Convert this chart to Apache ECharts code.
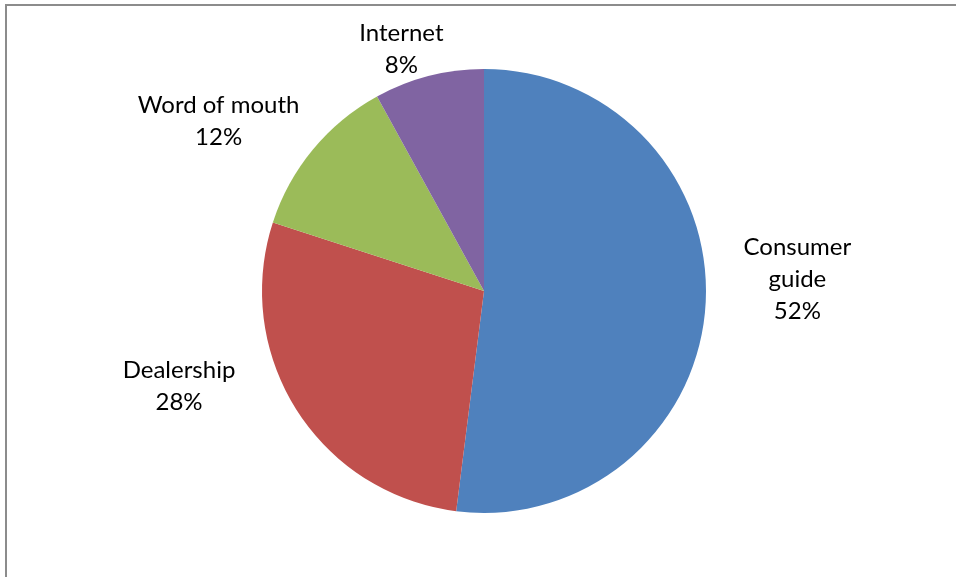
<!DOCTYPE html>
<html>
<head>
<meta charset="utf-8">
<script src="https://cdn.jsdelivr.net/npm/echarts@6/dist/echarts.min.js"></script>
<style>
  html, body { margin: 0; padding: 0; background: #fff; }
  #chart { width: 956px; height: 577px; }
</style>
</head>
<body>
<div id="chart"></div>
<script>
// Information sources and their shares (percent)
const sources = ['Consumer guide', 'Dealership', 'Word of mouth', 'Internet'];
const shares = [52, 28, 12, 8];
const labelTexts = ['Consumer\nguide', 'Dealership', 'Word of mouth', 'Internet'];

const colors = ['#4F81BD', '#C0504D', '#9BBB59', '#8064A2'];

// Pie geometry
const CX = 484, CY = 291, R = 222;
// Label placement: radial gap beyond the rim and a small nudge per slice
const labelGap = [90, 80, 90, 30];
const labelNudge = [[2, -31], [-50, -67], [-25, 29], [-20, 2]];

const total = shares.reduce((a, b) => a + b, 0);
const midAngles = [];
let acc = 0;
shares.forEach(v => {
  midAngles.push((acc + v / 2) / total * 2 * Math.PI);
  acc += v;
});

const chart = echarts.init(document.getElementById('chart'));
chart.setOption({
  animation: false,
  backgroundColor: '#fff',
  graphic: [{
    type: 'rect',
    shape: { x: 6, y: 5, width: 970, height: 600 },
    style: { fill: 'none', stroke: '#8c8c8c', lineWidth: 2 },
    silent: true
  }],
  series: [{
    type: 'pie',
    center: [CX, CY],
    radius: R,
    startAngle: 90,
    clockwise: true,
    data: sources.map((name, i) => ({
      name: name,
      value: shares[i],
      itemStyle: { color: colors[i] }
    })),
    itemStyle: { borderWidth: 0 },
    label: {
      show: true,
      position: 'outside',
      formatter: p => labelTexts[p.dataIndex] + '\n' + p.value + '%',
      fontFamily: 'Lato',
      fontSize: 24,
      lineHeight: 32,
      color: '#000',
      align: 'center'
    },
    labelLine: { show: false },
    labelLayout: p => {
      const i = p.dataIndex;
      const a = midAngles[i];
      const d = R + labelGap[i];
      return {
        x: CX + d * Math.sin(a) + labelNudge[i][0],
        y: CY - d * Math.cos(a) + labelNudge[i][1],
        align: 'center',
        verticalAlign: 'middle'
      };
    },
    emphasis: { disabled: true }
  }]
});
</script>
</body>
</html>
